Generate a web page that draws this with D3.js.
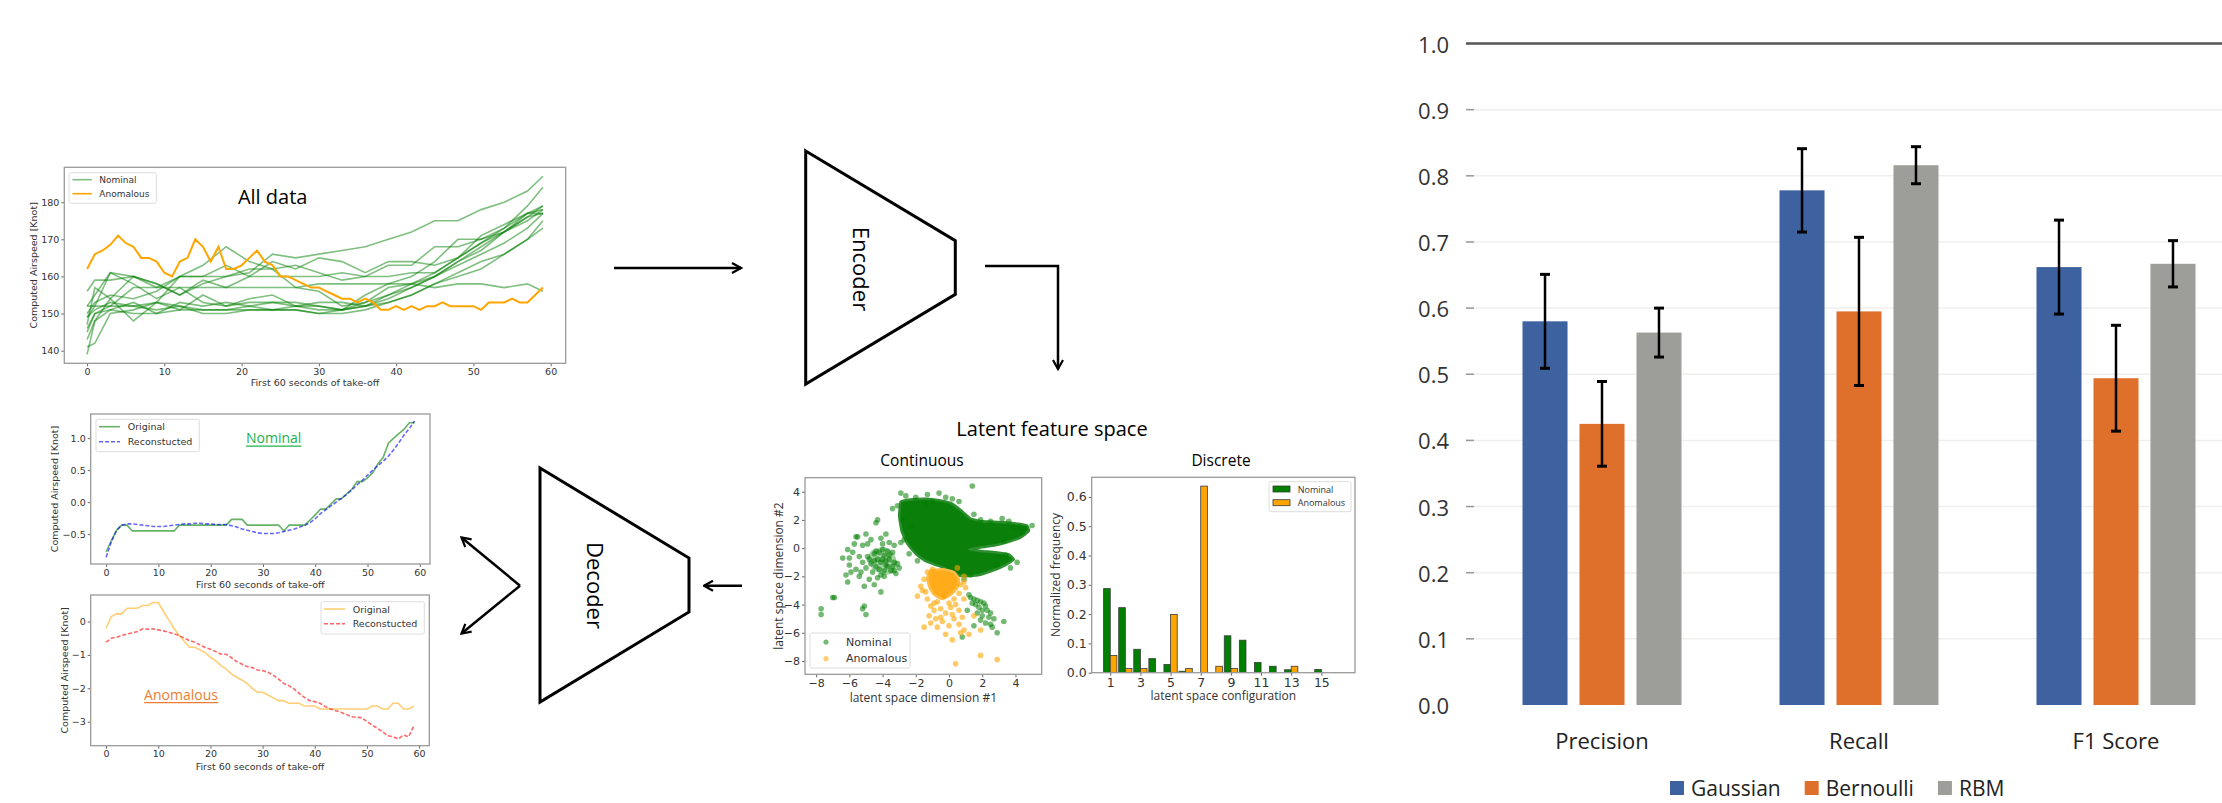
<!DOCTYPE html>
<html><head><meta charset="utf-8">
<script src="https://cdn.jsdelivr.net/npm/d3@7"></script>
<style>body{margin:0;background:#fff}svg{display:block}</style>
</head><body>
<svg id="c" width="2222" height="803"></svg>
<script>
// ---------------- DATA ----------------
const seconds = d3.range(0, 60);
const nominalTimes = [0,1,3,6,9,12,15,18,21,24,27,30,33,36,39,42,45,48,51,54,57,59];
const nominalSeries = [
  [156,159,159,160,157,160,160,160,161,166,165,166,167,168,170,172,175,175,178,180,183,187],
  [149,151,153,152,151,152,151,151,152,151,152,152,151,155,158,160,164,170,170,173,179,184],
  [152,152,152,157,157,157,157,157,157,157,157,158,158,158,158,158,157,158,158,157,158,156],
  [146,150,152,152,153,160,163,168,164,162,163,161,159,160,163,163,168,168,170,172,176,179],
  [143,148,154,160,158,155,158,160,162,162,157,156,152,153,157,158,160,164,167,172,177,179],
  [149,152,161,158,154,157,153,152,153,153,152,151,151,152,155,158,161,165,169,172,175,178],
  [141,142,150,151,153,152,150,150,151,151,151,150,151,153,155,157,160,164,168,172,176,177],
  [147,157,154,148,153,151,155,152,154,155,152,153,153,152,154,157,160,163,166,169,173,177],
  [145,150,151,153,150,153,152,153,152,153,153,152,151,152,153,155,158,161,164,166,170,175],
  [139,148,151,150,150,151,151,151,151,151,151,150,150,151,153,155,158,160,162,166,170,173],
  [152,155,161,160,158,155,159,157,160,164,162,165,164,161,164,164,163,165,171,174,177,178],
  [150,153,155,154,156,160,160,163,160,160,160,160,161,160,160,161,161,165,169,173,177,177]
];
const anomalousSeries = [162,166,167,168.5,171,169,168,165,165,164,161,160,164,165,170,168,164,168,162,162,
  163,165,167,164,163,160,160,159,158,157,157,156,155,154,154,153,154,153,151,151,
  152,151,152,151,152,152,153,152,152,152,152,151,153,153,153,154,153,153,155,157];

const nomOriginal = [-0.78,-0.6,-0.44,-0.36,-0.36,-0.45,-0.45,-0.45,-0.45,-0.45,-0.45,-0.45,-0.45,-0.45,-0.36,-0.36,-0.36,-0.36,-0.36,-0.36,
  -0.36,-0.36,-0.36,-0.36,-0.27,-0.27,-0.27,-0.36,-0.36,-0.36,-0.36,-0.36,-0.36,-0.36,-0.45,-0.36,-0.36,-0.36,-0.36,-0.28,
  -0.2,-0.11,-0.11,-0.03,0.05,0.05,0.13,0.2,0.32,0.32,0.38,0.46,0.6,0.7,0.92,1.0,1.07,1.14,1.24,1.24];
const nomRecon = [-0.86,-0.62,-0.44,-0.36,-0.34,-0.34,-0.35,-0.36,-0.37,-0.38,-0.38,-0.38,-0.37,-0.36,-0.35,-0.34,-0.34,-0.33,-0.33,-0.34,
  -0.34,-0.35,-0.35,-0.35,-0.37,-0.39,-0.42,-0.44,-0.46,-0.48,-0.49,-0.49,-0.49,-0.48,-0.46,-0.44,-0.42,-0.39,-0.36,-0.32,
  -0.26,-0.18,-0.12,-0.06,0.0,0.06,0.12,0.19,0.27,0.34,0.42,0.5,0.57,0.64,0.72,0.82,0.93,1.05,1.15,1.27];
const anoOriginal = [-0.2,0.15,0.23,0.23,0.4,0.4,0.4,0.48,0.48,0.57,0.57,0.3,0.05,-0.2,-0.42,-0.6,-0.77,-0.77,-0.85,-0.93,
  -1.07,-1.17,-1.32,-1.42,-1.57,-1.67,-1.75,-1.85,-2.0,-2.12,-2.12,-2.2,-2.28,-2.37,-2.37,-2.45,-2.45,-2.45,-2.53,-2.53,
  -2.53,-2.62,-2.62,-2.62,-2.62,-2.62,-2.62,-2.62,-2.62,-2.62,-2.62,-2.53,-2.53,-2.62,-2.62,-2.45,-2.45,-2.62,-2.62,-2.53];
const anoRecon = [-0.62,-0.5,-0.47,-0.42,-0.37,-0.34,-0.3,-0.22,-0.23,-0.22,-0.25,-0.28,-0.32,-0.37,-0.42,-0.5,-0.57,-0.62,-0.7,-0.78,
  -0.83,-0.9,-0.98,-0.98,-1.08,-1.2,-1.27,-1.35,-1.38,-1.45,-1.47,-1.52,-1.6,-1.72,-1.85,-1.92,-2.02,-2.15,-2.27,-2.37,
  -2.4,-2.45,-2.55,-2.62,-2.67,-2.72,-2.78,-2.85,-2.87,-2.88,-3.0,-3.1,-3.2,-3.3,-3.42,-3.45,-3.52,-3.4,-3.45,-3.12];

// latent space: dense regions (outlines) and individual points
const nominalDenseRegion = [[-2.9,3.3],[-2.3,3.45],[-1.4,3.5],[-0.6,3.4],[0.1,3.2],[0.7,2.7],[1.3,2.1],[2.0,1.9],[3.0,1.85],[4.0,1.75],
  [4.7,1.6],[4.8,1.2],[4.3,0.75],[3.6,0.45],[2.8,0.2],[1.9,0.05],[1.2,-0.08],[1.9,-0.2],[2.8,-0.3],[3.6,-0.45],[3.9,-0.8],[3.4,-1.2],
  [2.6,-1.6],[1.8,-1.9],[0.9,-2.0],[0.3,-1.8],[-0.3,-1.4],[-0.9,-1.15],[-1.5,-0.85],[-2.0,-0.4],[-2.5,0.3],[-2.85,1.2],[-3.0,2.3]];
const nominalLeftCore = [[-4.7,-0.2],[-3.9,0.1],[-3.3,-0.4],[-3.1,-1.2],[-3.4,-1.8],[-4.0,-1.9],[-4.6,-1.5],[-4.9,-0.8]];
const anomalousDenseRegion = [[-1.1,-1.6],[-0.4,-1.5],[0.3,-1.7],[0.6,-2.2],[0.5,-2.8],[0.1,-3.3],[-0.4,-3.6],[-0.9,-3.3],[-1.2,-2.7],[-1.3,-2.1]];
const nominalLatent = [[-4.3,2.0],[-4.4,1.8],[-5.0,1.0],[-3.8,1.0],[-5.6,0.8],[-5.5,0.8],[-4.7,0.6],[-4.1,0.7],[-3.6,0.4],[-5.2,0.2],
  [-5.7,0.3],[-6.1,-0.1],[-6.4,-0.7],[-6.0,-0.7],[-5.4,-0.6],[-4.9,-0.6],[-4.5,-0.4],[-4.2,-0.3],[-3.9,-0.5],[-3.6,-0.8],[-3.3,-1.0],
  [-3.0,-1.4],[-3.2,-1.8],[-3.5,-1.6],[-3.8,-1.2],[-4.1,-1.0],[-4.4,-1.3],[-4.7,-1.1],[-5.0,-1.4],[-5.3,-1.7],[-5.6,-1.5],[-5.9,-1.7],
  [-6.2,-1.9],[-6.1,-2.4],[-5.4,-2.0],[-4.8,-2.2],[-4.3,-2.1],[-3.9,-2.0],[-4.5,-2.6],[-5.1,-2.7],[-4.1,-3.1],[-6.0,-1.2],[-5.8,-0.3],
  [-4.0,-0.1],[-3.7,-0.2],[-4.3,-0.8],[-3.9,-1.6],[-4.6,-1.7],[-5.2,-1.0],[-4.0,0.3],[-3.4,-0.3],[-2.9,0.4],[-3.3,0.2],[-4.9,0.3],
  [-4.2,-1.5],[-3.7,-1.3],[-3.4,-1.3],[-4.0,-0.8],[-3.6,-0.5],[-4.5,-0.9],[-4.8,-0.8],[-3.3,-1.6],[-3.1,-1.1],[-4.4,-0.2],[-3.8,-0.9],
  [-4.1,-1.9],[-6.9,-3.5],[-7.0,-3.5],[-7.7,-4.3],[-7.7,-4.7],[-5.1,-4.1],[-5.0,-4.7],[-5.2,-4.3],
  [-2.9,3.9],[-2.6,3.7],[-2.0,3.6],[-1.3,3.8],[-1.0,3.3],[-0.6,3.9],[-0.2,3.6],[0.2,3.5],[0.6,3.3],[1.4,4.4],[1.5,2.4],[1.9,2.0],
  [3.2,2.1],[3.9,1.5],[4.2,1.5],[4.6,1.4],[5.0,1.6],[-3.4,2.8],[-2.3,1.5],[-2.7,0.6],[-2.4,-0.4],[-1.9,-0.9],[3.0,-0.6],[3.4,-0.5],
  [2.9,-1.2],[1.3,-1.9],[0.9,-2.2],[-1.4,3.1],[2.5,1.9],[3.6,1.9],[4.4,1.1],[3.3,0.5],[4.1,-1.0],[3.7,-1.4],[-3.1,3.0],[-2.8,2.0],
  [1.2,-3.3],[1.3,-3.5],[1.5,-3.6],[1.7,-3.7],[1.9,-3.8],[2.1,-3.9],[2.2,-4.1],[1.6,-4.0],[1.4,-3.9],[1.8,-4.2],[2.0,-4.4],[2.3,-4.4],
  [2.5,-4.6],[2.7,-5.0],[2.4,-4.9],[2.0,-4.8],[1.9,-5.1],[2.2,-5.3],[2.5,-5.4],[2.6,-5.6],[3.3,-5.2],[2.9,-6.0],[1.7,-4.6],[1.1,-4.4],
  [0.8,-6.3],[1.5,-5.5]];
const anomalousLatent = [[-1.5,-2.2],[-1.6,-3.0],[-1.3,-3.6],[-1.1,-4.1],[-0.9,-4.4],[-0.5,-4.3],[-0.2,-4.6],[0.1,-4.2],[0.4,-4.0],
  [0.6,-4.4],[0.9,-3.6],[1.0,-2.8],[0.9,-2.0],[0.5,-1.4],[-1.0,-1.5],[-1.5,-5.6],[-1.1,-5.3],[-0.8,-5.0],[-0.4,-5.2],[0.0,-5.5],
  [0.3,-5.0],[0.6,-5.4],[0.9,-5.8],[1.2,-6.1],[0.7,-6.0],[-0.2,-6.1],[-0.7,-5.6],[0.2,-6.5],[1.5,-4.8],[1.9,-5.8],[0.4,-8.2],
  [1.9,-7.6],[2.9,-7.9],[-1.9,-3.4],[-1.2,-4.8],[-0.5,-4.9],[0.2,-4.7],[-1.7,-2.7],[0.8,-4.9],
  [-1.3,-1.7],[-0.7,-3.8],[0.3,-3.6],[0.7,-2.6],[-1.4,-3.1],[0.0,-3.9],[-0.3,-3.4],[0.6,-3.2],[-0.9,-3.9],[0.9,-2.4]];

// discrete latent configuration histogram
const configurations = d3.range(1, 17);
const nominalFreq   = [0.287,0.222,0.080,0.048,0.028,0.005,0,0,0.126,0.111,0.035,0.022,0.010,0,0.011,0];
const anomalousFreq = [0.059,0.014,0.014,0,0.199,0.014,0.637,0.022,0.014,0,0,0,0.022,0,0,0];

// performance bar chart
const metrics = ["Precision", "Recall", "F1 Score"];
const models = ["Gaussian", "Bernoulli", "RBM"];
const gaussianScore = [0.580, 0.778, 0.662];
const gaussianErr   = [0.071, 0.063, 0.071];
const bernoulliScore = [0.425, 0.595, 0.494];
const bernoulliErr   = [0.064, 0.112, 0.080];
const rbmScore = [0.563, 0.816, 0.667];
const rbmErr   = [0.037, 0.028, 0.035];
const barTicks = [0,0.1,0.2,0.3,0.4,0.5,0.6,0.7,0.8,0.9,1.0];

// ---------------- DRAWING ----------------
const svg = d3.select("#c");
const F_MPL = "'DejaVu Sans', sans-serif";
const F_UI = "'Open Sans', 'Noto Sans', sans-serif";
const defs = svg.append("defs");
defs.append("marker").attr("id","arr").attr("viewBox","0 0 12 12").attr("refX",10.5).attr("refY",6)
  .attr("markerWidth",12).attr("markerHeight",12).attr("markerUnits","userSpaceOnUse").attr("orient","auto")
  .append("path").attr("d","M1.5,1 L10.5,6 L1.5,11").attr("fill","none").attr("stroke","#000").attr("stroke-width",2.2);

let clipN = 0;
function panel(c) {
  const g = svg.append("g");
  const x = d3.scaleLinear().domain(c.xDomain).range([c.left, c.right]);
  const y = d3.scaleLinear().domain(c.yDomain).range([c.bottom, c.top]);
  const xa = g.append("g").attr("transform", `translate(0,${c.bottom})`)
    .call(d3.axisBottom(x).tickValues(c.xTicks).tickFormat(c.xFmt).tickSize(3).tickPadding(2));
  const ya = g.append("g").attr("transform", `translate(${c.left},0)`)
    .call(d3.axisLeft(y).tickValues(c.yTicks).tickFormat(c.yFmt).tickSize(3).tickPadding(2));
  [xa, ya].forEach(a => {
    a.attr("font-family", c.tickFont || F_MPL).attr("font-size", c.tickSize);
    a.select(".domain").remove();
    a.selectAll("line").attr("stroke", "#666");
    a.selectAll("text").attr("fill", "#333");
  });
  const id = "clip" + (clipN++);
  defs.append("clipPath").attr("id", id).append("rect")
    .attr("x", c.left).attr("y", c.top).attr("width", c.right - c.left).attr("height", c.bottom - c.top);
  const plot = g.append("g").attr("clip-path", `url(#${id})`);
  g.append("text").attr("x", (c.left + c.right) / 2).attr("y", c.xLabelY).attr("text-anchor","middle")
    .attr("dominant-baseline","central").attr("font-family", c.labelFont || F_MPL).attr("font-size", c.labelSize)
    .attr("fill","#333").text(c.xLabel);
  g.append("text").attr("transform", `translate(${c.yLabelX},${(c.top + c.bottom) / 2}) rotate(-90)`)
    .attr("text-anchor","middle").attr("dominant-baseline","central")
    .attr("font-family", c.labelFont || F_MPL).attr("font-size", c.labelSize).attr("fill","#333").text(c.yLabel);
  const finish = () => g.append("rect").attr("x", c.left).attr("y", c.top)
    .attr("width", c.right - c.left).attr("height", c.bottom - c.top)
    .attr("fill","none").attr("stroke","#9a9a9a").attr("stroke-width",1.3);
  return {g, x, y, plot, finish};
}

function lineLegend(g, box, items, textX, fontSize) {
  g.append("rect").attr("x", box[0]).attr("y", box[1]).attr("width", box[2]-box[0]).attr("height", box[3]-box[1])
    .attr("rx", 2).attr("fill","#fff").attr("fill-opacity",0.85).attr("stroke","#ddd").attr("stroke-width",1);
  items.forEach(it => {
    g.append("line").attr("x1", it.x1).attr("x2", it.x2).attr("y1", it.y).attr("y2", it.y)
      .attr("stroke", it.color).attr("stroke-opacity", it.op).attr("stroke-width", 1.6)
      .attr("stroke-dasharray", it.dash || null);
    g.append("text").attr("x", textX).attr("y", it.y).attr("dominant-baseline","central")
      .attr("font-family", F_MPL).attr("font-size", fontSize).attr("fill","#333").text(it.label);
  });
}

function underlinedText(x, y, str, color, size) {
  const t = svg.append("text").attr("x", x).attr("y", y).attr("text-anchor","middle")
    .attr("dominant-baseline","central").attr("font-family", F_UI).attr("font-size", size).attr("fill", color).text(str);
  const b = t.node().getBBox();
  svg.append("line").attr("x1", b.x).attr("x2", b.x + b.width).attr("y1", y + size*0.62).attr("y2", y + size*0.62)
    .attr("stroke", color).attr("stroke-width", 1.2);
}

// ---- Panel 1: All data ----
{
  const p = panel({left:64.3,right:565.7,top:167.3,bottom:363.3,xDomain:[-2.95,61.95],yDomain:[136.6,189.4],
    xTicks:[0,10,20,30,40,50,60],yTicks:[140,150,160,170,180],xFmt:d3.format("d"),yFmt:d3.format("d"),tickSize:9.5,
    xLabel:"First 60 seconds of take-off",xLabelY:382,yLabel:"Computed Airspeed [Knot]",yLabelX:33,labelSize:9.5});
  const ln = d3.line().x(d => p.x(d[0])).y(d => p.y(d[1]));
  nominalSeries.forEach(s => {
    p.plot.append("path").attr("d", ln(nominalTimes.map((t,i) => [t, s[i]])))
      .attr("fill","none").attr("stroke","green").attr("stroke-opacity",0.5).attr("stroke-width",1.6);
  });
  p.plot.append("path").attr("d", ln(seconds.map((t,i) => [t, anomalousSeries[i]])))
    .attr("fill","none").attr("stroke","orange").attr("stroke-width",2);
  p.finish();
  lineLegend(p.g, [69,172.7,156.4,203.3], [
    {x1:72.5,x2:91.8,y:179.7,color:"green",op:0.5,label:"Nominal"},
    {x1:72.5,x2:91.8,y:193.7,color:"orange",op:1,label:"Anomalous"}], 99.3, 9);
  svg.append("text").attr("x",272.7).attr("y",196.7).attr("text-anchor","middle").attr("dominant-baseline","central")
    .attr("font-family",F_UI).attr("font-size",20).attr("fill","#000").text("All data");
}

// ---- Panel 2: Nominal reconstruction ----
{
  const p = panel({left:90.7,right:430,top:414,bottom:564,xDomain:[-2.95,61.95],yDomain:[-0.967,1.377],
    xTicks:[0,10,20,30,40,50,60],yTicks:[-0.5,0,0.5,1.0],xFmt:d3.format("d"),yFmt:d3.format(".1f"),tickSize:9.5,
    xLabel:"First 60 seconds of take-off",xLabelY:584,yLabel:"Computed Airspeed [Knot]",yLabelX:54,labelSize:9.5});
  const ln = d3.line().x(d => p.x(d[0])).y(d => p.y(d[1]));
  p.plot.append("path").attr("d", ln(seconds.map((t,i) => [t, nomOriginal[i]])))
    .attr("fill","none").attr("stroke","green").attr("stroke-opacity",0.6).attr("stroke-width",1.6);
  p.plot.append("path").attr("d", ln(seconds.map((t,i) => [t, nomRecon[i]])))
    .attr("fill","none").attr("stroke","blue").attr("stroke-opacity",0.6).attr("stroke-width",1.6).attr("stroke-dasharray","4,2");
  p.finish();
  lineLegend(p.g, [96,419.3,199.3,451.7], [
    {x1:99,x2:120,y:426.7,color:"green",op:0.6,label:"Original"},
    {x1:99,x2:120,y:441.7,color:"blue",op:0.6,dash:"4,2",label:"Reconstucted"}], 127.7, 9.5);
  underlinedText(273.7, 437.5, "Nominal", "#22b14c", 14);
}

// ---- Panel 3: Anomalous reconstruction ----
{
  const p = panel({left:90.7,right:429.3,top:595,bottom:745.7,xDomain:[-2.95,61.95],yDomain:[-3.72,0.795],
    xTicks:[0,10,20,30,40,50,60],yTicks:[-3,-2,-1,0],xFmt:d3.format("d"),yFmt:d3.format("d"),tickSize:9.5,
    xLabel:"First 60 seconds of take-off",xLabelY:766,yLabel:"Computed Airspeed [Knot]",yLabelX:64,labelSize:9.5});
  const ln = d3.line().x(d => p.x(d[0])).y(d => p.y(d[1]));
  p.plot.append("path").attr("d", ln(seconds.map((t,i) => [t, anoOriginal[i]])))
    .attr("fill","none").attr("stroke","orange").attr("stroke-opacity",0.55).attr("stroke-width",1.6);
  p.plot.append("path").attr("d", ln(seconds.map((t,i) => [t, anoRecon[i]])))
    .attr("fill","none").attr("stroke","red").attr("stroke-opacity",0.6).attr("stroke-width",1.6).attr("stroke-dasharray","4,2");
  p.finish();
  lineLegend(p.g, [321,601.7,424.3,634], [
    {x1:324,x2:345,y:609,color:"orange",op:0.55,label:"Original"},
    {x1:324,x2:345,y:623.7,color:"red",op:0.6,dash:"4,2",label:"Reconstucted"}], 352.7, 9.5);
  underlinedText(181, 694, "Anomalous", "#ed7d31", 14);
}

// ---- Diagram: encoder / decoder / arrows ----
{
  const D = {
    encoder: [[805.7,151],[955.3,240.7],[955.3,294.3],[805.7,384]],
    decoder: [[540,468],[689,558],[689,612],[540,702]]
  };
  const poly = d3.line().curve(d3.curveLinearClosed);
  svg.append("path").attr("d", poly(D.encoder)).attr("fill","none").attr("stroke","#000").attr("stroke-width",3).attr("stroke-linejoin","miter");
  svg.append("path").attr("d", poly(D.decoder)).attr("fill","none").attr("stroke","#000").attr("stroke-width",3).attr("stroke-linejoin","miter");
  svg.append("text").attr("transform","translate(862,269) rotate(90)").attr("text-anchor","middle").attr("dominant-baseline","central")
    .attr("font-family",F_UI).attr("font-size",22).attr("fill","#000").text("Encoder");
  svg.append("text").attr("transform","translate(596,585.5) rotate(90)").attr("text-anchor","middle").attr("dominant-baseline","central")
    .attr("font-family",F_UI).attr("font-size",22).attr("fill","#000").text("Decoder");
  const arrows = ["M614,268 H741", "M985,266 H1058 V369", "M742,585.7 H704",
                  "M520,585.7 L461.5,537.5", "M520,585.7 L461.5,633.5"];
  arrows.forEach(d => svg.append("path").attr("d", d).attr("fill","none").attr("stroke","#000")
    .attr("stroke-width",2.5).attr("marker-end","url(#arr)"));
}

// ---- Latent feature space titles ----
svg.append("text").attr("x",1052).attr("y",428).attr("text-anchor","middle").attr("dominant-baseline","central")
  .attr("font-family",F_UI).attr("font-size",20).attr("fill","#000").text("Latent feature space");
svg.append("text").attr("x",922).attr("y",460).attr("text-anchor","middle").attr("dominant-baseline","central")
  .attr("font-family",F_UI).attr("font-size",15.5).attr("fill","#000").text("Continuous");
svg.append("text").attr("x",1221).attr("y",460).attr("text-anchor","middle").attr("dominant-baseline","central")
  .attr("font-family",F_UI).attr("font-size",15.5).attr("fill","#000").text("Discrete");

// ---- Panel 4: Continuous scatter ----
{
  const p = panel({left:805,right:1041.7,top:477.7,bottom:674.3,xDomain:[-8.67,5.58],yDomain:[-8.94,4.99],
    xTicks:[-8,-6,-4,-2,0,2,4],yTicks:[-8,-6,-4,-2,0,2,4],xFmt:d3.format("d"),yFmt:d3.format("d"),tickSize:11,
    xLabel:"latent space dimension #1",xLabelY:697,yLabel:"latent space dimension #2",yLabelX:778,labelSize:12,labelFont:F_UI});
  const region = d3.line().x(d => p.x(d[0])).y(d => p.y(d[1])).curve(d3.curveCardinalClosed.tension(0.6));
  p.plot.append("path").attr("d", region(nominalLeftCore)).attr("fill","green").attr("fill-opacity",0.35);
  p.plot.append("path").attr("d", region(nominalDenseRegion)).attr("fill","#0a7f0a")
    .attr("stroke","#2e8f2e").attr("stroke-width",2.5).attr("stroke-linejoin","round");
  p.plot.selectAll(".pn").data(nominalLatent).join("circle").attr("cx", d => p.x(d[0])).attr("cy", d => p.y(d[1]))
    .attr("r", 2.8).attr("fill","green").attr("fill-opacity",0.55);
  p.plot.append("path").attr("d", region(anomalousDenseRegion)).attr("fill","#ffab1a")
    .attr("stroke","#ffbb44").attr("stroke-width",2.5).attr("stroke-linejoin","round");
  p.plot.selectAll(".pa").data(anomalousLatent).join("circle").attr("cx", d => p.x(d[0])).attr("cy", d => p.y(d[1]))
    .attr("r", 2.8).attr("fill","orange").attr("fill-opacity",0.6);
  p.finish();
  p.g.append("rect").attr("x",810).attr("y",633).attr("width",100).attr("height",35).attr("rx",2)
    .attr("fill","#fff").attr("fill-opacity",0.85).attr("stroke","#ddd");
  [["Nominal","green",642],["Anomalous","orange",658.7]].forEach(([lab,col,yy]) => {
    p.g.append("circle").attr("cx",826).attr("cy",yy).attr("r",2.6).attr("fill",col).attr("fill-opacity",0.55);
    p.g.append("text").attr("x",846).attr("y",yy).attr("dominant-baseline","central").attr("font-family",F_MPL)
      .attr("font-size",11).attr("fill","#333").text(lab);
  });
}

// ---- Panel 5: Discrete histogram ----
{
  const p = panel({left:1091.7,right:1355,top:477.3,bottom:672.7,xDomain:[-0.23,17.23],yDomain:[0,0.667],
    xTicks:[1,3,5,7,9,11,13,15],yTicks:[0,0.1,0.2,0.3,0.4,0.5,0.6],xFmt:d3.format("d"),yFmt:d3.format(".1f"),tickSize:12.5,
    xLabel:"latent space configuration",xLabelY:695,yLabel:"Normalized frequency",yLabelX:1055,labelSize:12,labelFont:F_UI});
  const w = 0.44;
  p.plot.selectAll(".bn").data(configurations).join("rect")
    .attr("x", k => p.x(k - w)).attr("width", k => p.x(k) - p.x(k - w))
    .attr("y", (k,i) => p.y(nominalFreq[i])).attr("height", (k,i) => p.y(0) - p.y(nominalFreq[i]))
    .attr("fill","green").attr("stroke","#3a3a3a").attr("stroke-width",0.8);
  p.plot.selectAll(".ba").data(configurations).join("rect")
    .attr("x", k => p.x(k)).attr("width", k => p.x(k + w) - p.x(k))
    .attr("y", (k,i) => p.y(anomalousFreq[i])).attr("height", (k,i) => p.y(0) - p.y(anomalousFreq[i]))
    .attr("fill","orange").attr("stroke","#3a3a3a").attr("stroke-width",0.8);
  p.finish();
  p.g.append("rect").attr("x",1269).attr("y",481.7).attr("width",82).attr("height",30).attr("rx",2)
    .attr("fill","#fff").attr("fill-opacity",0.85).attr("stroke","#ddd");
  [["Nominal","green",489],["Anomalous","orange",502.7]].forEach(([lab,col,yy]) => {
    p.g.append("rect").attr("x",1273).attr("y",yy-3).attr("width",17).attr("height",6).attr("fill",col)
      .attr("stroke","#3a3a3a").attr("stroke-width",0.8);
    p.g.append("text").attr("x",1297.7).attr("y",yy).attr("dominant-baseline","central").attr("font-family",F_UI)
      .attr("font-size",9).attr("fill","#333").text(lab);
  });
}

// ---- Panel 6: Performance bar chart ----
{
  const g = svg.append("g");
  const y = d3.scaleLinear().domain([0,1]).range([705,43.5]);
  const x0 = d3.scaleBand().domain(metrics).range([1473.5,2244.5]);
  const x1 = d3.scaleBand().domain(models).range([-79.5,79.5]).paddingInner(0.21);
  const colors = {Gaussian:"#3e62a0", Bernoulli:"#de702c", RBM:"#9d9e99"};
  const scores = {Gaussian:gaussianScore, Bernoulli:bernoulliScore, RBM:rbmScore};
  const errs = {Gaussian:gaussianErr, Bernoulli:bernoulliErr, RBM:rbmErr};
  barTicks.forEach(t => {
    if (t === 1.0) {
      g.append("line").attr("x1",1466).attr("x2",2222).attr("y1",y(t)).attr("y2",y(t)).attr("stroke","#555").attr("stroke-width",2.5);
    } else if (t > 0) {
      g.append("line").attr("x1",1466).attr("x2",2222).attr("y1",y(t)).attr("y2",y(t)).attr("stroke","#efefed").attr("stroke-width",1.5);
      g.append("line").attr("x1",1466).attr("x2",1474).attr("y1",y(t)).attr("y2",y(t)).attr("stroke","#999").attr("stroke-width",1.5);
    }
    g.append("text").attr("x",1449).attr("y",y(t)).attr("text-anchor","end").attr("dominant-baseline","central")
      .attr("font-family",F_UI).attr("font-size",22).attr("fill","#333").text(d3.format(".1f")(t));
  });
  models.forEach(m => {
    metrics.forEach((k,i) => {
      const cx = x0(k) + x0.bandwidth()/2 + x1(m);
      g.append("rect").attr("x", cx).attr("width", x1.bandwidth()).attr("y", y(scores[m][i]))
        .attr("height", y(0) - y(scores[m][i])).attr("fill", colors[m]);
    });
  });
  models.forEach(m => {
    metrics.forEach((k,i) => {
      const cx = x0(k) + x0.bandwidth()/2 + x1(m) + x1.bandwidth()/2;
      const hi = y(scores[m][i] + errs[m][i]), lo = y(scores[m][i] - errs[m][i]);
      g.append("line").attr("x1",cx).attr("x2",cx).attr("y1",hi).attr("y2",lo).attr("stroke","#000").attr("stroke-width",2.5);
      [hi, lo].forEach(yy => g.append("line").attr("x1",cx-5).attr("x2",cx+5).attr("y1",yy).attr("y2",yy)
        .attr("stroke","#000").attr("stroke-width",3));
    });
  });
  metrics.forEach(k => g.append("text").attr("x", x0(k) + x0.bandwidth()/2).attr("y",740).attr("text-anchor","middle")
    .attr("dominant-baseline","central").attr("font-family",F_UI).attr("font-size",22).attr("fill","#222").text(k));
  let lx = 1670;
  models.forEach(m => {
    g.append("rect").attr("x", lx).attr("y", 781).attr("width", 14).attr("height", 14).attr("fill", colors[m]);
    const t = g.append("text").attr("x", lx + 21).attr("y", 788).attr("dominant-baseline","central")
      .attr("font-family",F_UI).attr("font-size",21).attr("fill","#222").text(m);
    lx = lx + 21 + t.node().getComputedTextLength() + 24;
  });
}
</script>
</body></html>
